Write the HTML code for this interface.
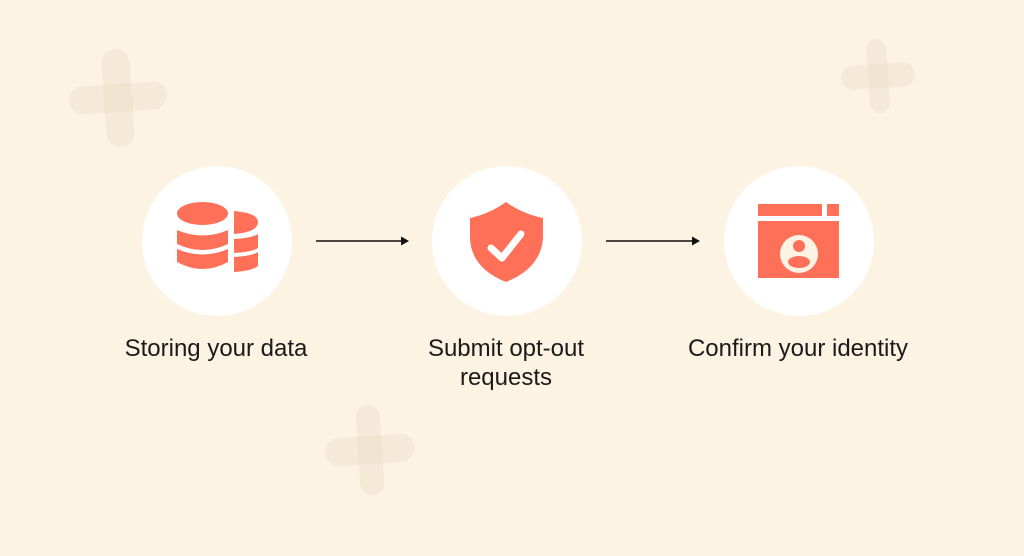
<!DOCTYPE html>
<html><head><meta charset="utf-8"><style>
html,body{margin:0;padding:0}
body{width:1024px;height:556px;background:#fdf3e3;position:relative;overflow:hidden;font-family:"Liberation Sans",sans-serif}
.c{position:absolute;width:150px;height:150px;border-radius:50%;background:#fff;top:166px}
.t{position:absolute;font-size:24px;color:#1a1a1a;text-align:center;line-height:29px;width:300px}
</style></head><body>
<svg width="1024" height="556" style="position:absolute;left:0;top:0">
<g fill="#e9dcc6" fill-opacity="0.42">
 <g transform="translate(118,98) rotate(-4)">
  <rect x="-14" y="-49" width="28" height="98" rx="14"/><rect x="-49" y="-14" width="98" height="28" rx="14"/>
 </g>
 <g transform="translate(878,76) rotate(-4)">
  <rect x="-10" y="-37" width="20" height="74" rx="10"/><rect x="-37" y="-12" width="74" height="24" rx="12"/>
 </g>
 <g transform="translate(370,450) rotate(-4)">
  <rect x="-12" y="-45" width="24" height="90" rx="12"/><rect x="-45" y="-14" width="90" height="28" rx="14"/>
 </g>
</g>
<g stroke="#111" stroke-width="1.6"><line x1="316" y1="241" x2="403" y2="241"/><line x1="606" y1="241" x2="694" y2="241"/></g>
<polygon points="409,241 401,236.5 401,245.5" fill="#111"/>
<polygon points="700,241 692,236.5 692,245.5" fill="#111"/>
</svg>
<div class="c" style="left:142px"></div>
<div class="c" style="left:432px"></div>
<div class="c" style="left:724px"></div>
<svg width="1024" height="556" style="position:absolute;left:0;top:0">
<g fill="#ff7059">
 <ellipse cx="202.5" cy="213.5" rx="25.5" ry="11.5"/>
 <path d="M177 230 Q202.5 241 228 230 L228 244 Q202.5 256 177 244 Z"/>
 <path d="M177 249 Q202.5 260 228 249 L228 262 Q202.5 276 177 262 Z"/>
 <path d="M234 211 Q258 213 258 222 Q258 232 234 234 Z"/>
 <path d="M234 239 Q252 238 258 234 L258 248 Q252 252 234 253 Z"/>
 <path d="M234 257 Q252 256 258 252 L258 266 Q252 271 234 272 Z"/>
 <path d="M506 202 Q523 214 543 218 L543 238 Q541 268 506 282 Q471 268 470 238 L470 218 Q489 214 506 202 Z"/>
 <rect x="758" y="204" width="64" height="12"/>
 <rect x="827" y="204" width="12" height="12"/>
 <rect x="758" y="221" width="81" height="57"/>
</g>
<polyline points="491,248 502,258 521,234" fill="none" stroke="#fff" stroke-width="7" stroke-linecap="round" stroke-linejoin="round"/>
<circle cx="799" cy="254" r="19" fill="#fdf3e3"/>
<circle cx="799" cy="246" r="6" fill="#ff7059"/>
<ellipse cx="799" cy="262" rx="11" ry="6" fill="#ff7059"/>
</svg>
<div class="t" style="left:66px;top:334px">Storing your data</div>
<div class="t" style="left:356px;top:334px">Submit opt-out<br>requests</div>
<div class="t" style="left:648px;top:334px">Confirm your identity</div>
</body></html>
